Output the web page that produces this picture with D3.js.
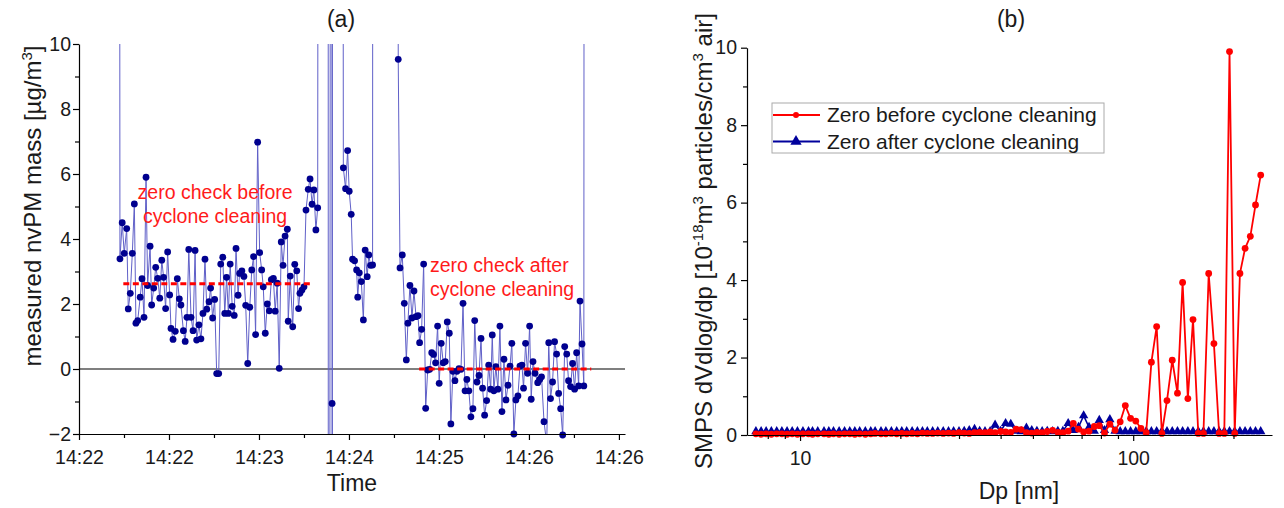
<!DOCTYPE html>
<html>
<head>
<meta charset="utf-8">
<script src="https://cdn.jsdelivr.net/npm/d3@7"></script>
<style>
  body { margin: 0; background: #fff; }
  text { font-family: "Liberation Sans", Arial, sans-serif; }
</style>
</head>
<body>
<svg id="chart" width="1284" height="508"></svg>
<script>
// ---------- panel (a) data: seconds after the first axis tick, nvPM mass (ug/m3)
// 60 / -60 stand for readings far off the plotted range
let timeSec = [
  17.7, 18.2, 19.2, 20.1, 21.2, 21.9, 22.8, 23.7, 24.6, 25.3,
  26.1, 27.2, 28.0, 28.9, 29.8, 30.5, 31.6, 32.3, 33.2, 34.1,
  35.0, 35.9, 36.8, 37.6, 38.5, 39.4, 40.3, 40.9, 41.8, 42.8,
  43.7, 44.6, 45.3, 46.4, 47.2, 48.0, 48.8, 49.8, 50.7, 51.6,
  52.3, 53.3, 54.2, 55.1, 56.0, 56.8, 57.8, 58.5, 59.4, 60.3,
  61.2, 62.1, 63.0, 63.9, 64.8, 65.6, 66.4, 67.2, 68.1, 69.0,
  69.8, 70.7, 71.4, 72.4, 73.3, 74.1, 75.0, 75.9, 76.8, 77.6,
  78.5, 79.4, 80.3, 81.2, 81.9, 82.8, 83.7, 84.6, 85.5, 86.4,
  87.2, 88.1, 89.0, 89.9, 90.7, 91.6, 92.6, 93.0, 93.9, 95.0,
  95.9, 96.8, 97.6, 98.2, 99.1, 100.0, 100.9, 101.9, 102.7, 103.6,
  104.4, 105.3, 106.1, 106.8, 110.7, 110.9, 112.2, 112.5, 112.55, 112.7,
  116.9, 117.5, 118.5, 119.4, 120.1, 121.0, 121.6, 122.5, 123.4, 123.9,
  124.6, 125.5, 126.4, 127.2, 128.1, 128.8, 129.6, 130.5, 130.8, 141.6,
  141.9, 142.7, 143.7, 144.6, 145.5, 146.2, 147.1, 148.0, 148.9, 149.8,
  150.7, 151.4, 152.3, 153.2, 154.1, 155.0, 155.9, 156.8, 157.6, 158.5,
  159.4, 160.1, 161.0, 161.9, 162.8, 163.7, 164.6, 165.3, 166.2, 167.1,
  168.0, 168.9, 169.8, 170.7, 171.6, 172.4, 173.3, 174.2, 175.1, 175.9,
  176.9, 177.8, 178.7, 179.4, 180.3, 181.2, 182.1, 183.0, 183.7, 184.4,
  185.3, 186.2, 187.1, 188.0, 188.9, 189.8, 190.7, 191.6, 192.4, 193.3,
  194.2, 195.1, 196.0, 196.9, 197.6, 198.5, 199.4, 200.3, 201.0, 201.8,
  202.7, 203.9, 204.8, 205.6, 206.7, 207.9, 208.8, 209.6, 210.5, 211.4,
  212.3, 213.2, 214.1, 215.0, 215.9, 216.8, 217.6, 218.5, 219.4, 220.3,
  221.2, 222.1, 222.7, 223.6, 224.4, 224.8
];
let massVals = [
  60, 3.39, 4.50, 3.56, 4.32, 1.85, 2.33, 3.56, 5.08, 1.41,
  1.49, 2.21, 2.78, 1.59, 5.90, 2.57, 3.78, 1.97, 2.49, 3.13,
  2.79, 2.18, 3.35, 2.82, 1.86, 3.60, 2.28, 1.25, 0.91, 1.16,
  2.78, 2.16, 1.97, 1.18, 0.85, 1.59, 3.68, 1.59, 1.18, 3.65,
  0.89, 1.36, 0.93, 1.71, 3.38, 1.84, 2.07, 2.49, 1.57, 2.14,
  -0.14, -0.14, 3.23, 3.44, 1.71, 2.82, 1.71, 3.23, 1.93, 1.65,
  3.71, 2.27, 2.94, 3.02, 2.85, 1.96, 0.17, 1.90, 3.05, 3.46,
  1.06, 6.98, 3.58, 3.05, 2.53, 1.10, 2.00, 1.79, 2.75, 2.79,
  1.78, 2.64, 0.02, 3.91, 3.19, 4.09, 4.30, 1.47, 2.86, 1.30,
  3.22, 3.02, 1.86, 2.33, 2.43, 2.53, 4.89, 5.53, 5.85, 5.07,
  5.51, 4.28, 4.96, 60, 60, -60, 60, -1.06, -60, 60,
  60, 6.19, 5.55, 6.72, 5.47, 4.76, 3.38, 3.33, 3.05, 2.21,
  2.96, 2.69, 1.51, 3.66, 2.84, 3.51, 3.19, 3.20, 60, 60,
  9.53, 3.11, 3.51, 2.02, 0.28, 1.41, 2.57, 1.57, 2.40, 1.61,
  1.64, 0.81, 1.22, 3.23, -1.21, -0.03, -0.01, 0.50, 0.45, 0.19,
  1.32, -0.44, 0.79, 0.19, 0.23, 1.45, 1.10, -1.69, -0.07, -0.36,
  -0.07, 0.01, -0.01, 2.02, -0.67, -0.32, -0.67, -1.47, -1.22, 1.49,
  -0.40, -0.20, 0.94, -0.59, -1.42, -0.97, 0.12, -0.62, 1.05, -0.67,
  0.07, -0.62, 1.32, -1.31, 0.30, -0.95, -0.50, 0.09, 0.79, -2.00,
  -0.95, -0.83, 0.09, 0.12, -0.59, 0.79, -0.13, 1.32, -0.93, 0.23,
  -0.13, -0.42, -0.32, -0.24, -1.62, -2.30, 0.81, -0.91, -0.40, 0.84,
  0.46, -0.75, -1.22, -2.03, 0.69, 0.46, -0.36, -0.54, 0.17, -0.62,
  0.50, -0.52, 2.09, 0.77, -0.52, 60
];
let timeTicks = [0, 40, 80, 120, 160, 200, 240];
let timeLabels = ["14:22", "14:22", "14:23", "14:24", "14:25", "14:26", "14:26"];
let timeMinor = [20, 60, 100, 140, 180, 220];
let massTicks = [-2, 0, 2, 4, 6, 8, 10];
let massMinor = [-1, 1, 3, 5, 7, 9];

// zero-check averages (red dashed)
let zeroStart = [19.7, 151.2];
let zeroEnd = [102.7, 227.7];
let zeroLevel = [2.62, 0.0];

// ---------- panel (b) data: SMPS channels (nm) and dV/dlogDp
let dpNm = [
  7.37, 7.64, 7.91, 8.2, 8.51, 8.82, 9.14, 9.47, 9.82, 10.2,
  10.6, 10.9, 11.3, 11.8, 12.2, 12.6, 13.1, 13.6, 14.1, 14.6,
  15.1, 15.7, 16.3, 16.8, 17.5, 18.1, 18.8, 19.5, 20.2, 20.9,
  21.7, 22.5, 23.3, 24.1, 25.0, 25.9, 26.9, 27.9, 28.9, 30.0,
  31.1, 32.2, 33.4, 34.6, 35.9, 37.2, 38.5, 40.0, 41.4, 42.9,
  44.5, 46.1, 47.8, 49.6, 51.4, 53.3, 55.2, 57.3, 59.4, 61.5,
  63.8, 66.1, 68.5, 71.0, 73.7, 76.4, 79.1, 82.0, 85.1, 88.2,
  91.4, 94.7, 98.2, 101.8, 105.5, 109.4, 113.4, 117.6, 121.9, 126.3,
  131.0, 135.8, 140.7, 145.9, 151.2, 156.8, 162.5, 168.5, 174.7, 181.1,
  187.7, 194.6, 201.7, 209.1, 216.7, 224.7, 232.9, 241.4
];
let beforeVals = [
  0.03, 0.02, 0.03, 0.02, 0.03, 0.03, 0.02, 0.03, 0.02, 0.03,
  0.03, 0.02, 0.03, 0.03, 0.02, 0.03, 0.02, 0.03, 0.03, 0.02,
  0.03, 0.02, 0.03, 0.04, 0.03, 0.03, 0.04, 0.03, 0.04, 0.03,
  0.04, 0.03, 0.05, 0.04, 0.04, 0.05, 0.04, 0.05, 0.04, 0.06,
  0.05, 0.04, 0.06, 0.07, 0.06, 0.08, 0.06, 0.09, 0.08, 0.07,
  0.15, 0.14, 0.06, 0.05, 0.07, 0.06, 0.09, 0.12, 0.07, 0.06,
  0.10, 0.30, 0.15, 0.08, 0.10, 0.22, 0.24, 0.05, 0.28, 0.12,
  0.34, 0.76, 0.43, 0.36, 0.17, 0.06, 1.88, 2.80, 0.04, 0.89,
  1.93, 1.08, 3.94, 0.94, 2.98, 0.04, 0.04, 4.17, 2.36, 0.04,
  0.04, 9.90, 0.04, 4.17, 4.82, 5.13, 5.94, 6.71
];
let afterVals = [
  0.09, 0.09, 0.09, 0.09, 0.09, 0.09, 0.09, 0.09, 0.09, 0.09,
  0.09, 0.09, 0.09, 0.09, 0.09, 0.09, 0.09, 0.09, 0.09, 0.09,
  0.09, 0.09, 0.09, 0.09, 0.09, 0.09, 0.09, 0.09, 0.09, 0.09,
  0.09, 0.09, 0.09, 0.09, 0.09, 0.09, 0.09, 0.09, 0.09, 0.09,
  0.10, 0.12, 0.15, 0.10, 0.09, 0.09, 0.26, 0.10, 0.30, 0.28,
  0.10, 0.09, 0.18, 0.12, 0.10, 0.09, 0.10, 0.09, 0.10, 0.10,
  0.30, 0.12, 0.20, 0.50, 0.20, 0.10, 0.38, 0.12, 0.40, 0.10,
  0.09, 0.09, 0.09, 0.09, 0.09, 0.09, 0.09, 0.09, 0.09, 0.09,
  0.09, 0.09, 0.09, 0.09, 0.09, 0.09, 0.09, 0.09, 0.09, 0.09,
  0.09, 0.09, 0.09, 0.09, 0.09, 0.09, 0.09, 0.09
];
let dpTicks = [10, 100];
let dpMinor = [8, 9, 20, 30, 40, 50, 60, 70, 80, 90, 200];
let smpsTicks = [0, 2, 4, 6, 8, 10];
let smpsMinor = [1, 3, 5, 7, 9];
let seriesNames = ["Zero before cyclone cleaning", "Zero after cyclone cleaning"];

const svg = d3.select('#chart');
const FONT = '"Liberation Sans", Arial, sans-serif';

function styleAxis(g, size) {
  g.attr('font-family', FONT).attr('font-size', size);
  g.selectAll('path, line').attr('stroke', '#000').attr('stroke-width', 1.2);
  g.selectAll('text').attr('fill', '#1a1a1a');
}

// =============== panel (a)
const ax = d3.scaleLinear().domain([0, 242.7]).range([79, 625]);
const ay = d3.scaleLinear().domain([-2, 10]).range([434, 44]);

svg.append('clipPath').attr('id', 'clipA')
  .append('rect')
  .attr('x', ax.range()[0]).attr('y', ay.range()[1])
  .attr('width', ax.range()[1] - ax.range()[0])
  .attr('height', ay.range()[0] - ay.range()[1]);

const pts = timeSec.map((t, i) => ({ t: t, v: massVals[i] }));

// zero line
svg.append('line')
  .attr('x1', ax.range()[0]).attr('x2', ax.range()[1])
  .attr('y1', ay(0)).attr('y2', ay(0))
  .attr('stroke', '#000').attr('stroke-width', 1.2);

svg.append('path')
  .datum(pts)
  .attr('clip-path', 'url(#clipA)')
  .attr('fill', 'none')
  .attr('stroke', '#6060c8')
  .attr('stroke-width', 1)
  .attr('d', d3.line().x(d => ax(d.t)).y(d => ay(d.v)));

svg.append('g').selectAll('circle')
  .data(pts.filter(d => d.v >= -2.1 && d.v <= 10))
  .enter().append('circle')
  .attr('cx', d => ax(d.t))
  .attr('cy', d => ay(d.v))
  .attr('r', 3.4)
  .attr('fill', '#00008f');

// red dashed zero-check averages
svg.append('g').selectAll('line')
  .data(zeroLevel)
  .enter().append('line')
  .attr('x1', (d, i) => ax(zeroStart[i]))
  .attr('x2', (d, i) => ax(zeroEnd[i]))
  .attr('y1', d => ay(d)).attr('y2', d => ay(d))
  .attr('stroke', '#ff0000')
  .attr('stroke-width', 3)
  .attr('stroke-dasharray', '6,3.5');

// annotations
const noteA = svg.append('text').attr('fill', '#ff1a1a').style('font-size', '19.5px').attr('text-anchor', 'middle');
noteA.append('tspan').attr('x', ax(60.5)).attr('y', 199).text('zero check before');
noteA.append('tspan').attr('x', ax(60.5)).attr('y', 223).text('cyclone cleaning');
const noteB = svg.append('text').attr('fill', '#ff1a1a').style('font-size', '19.5px');
noteB.append('tspan').attr('x', ax(156)).attr('y', 271.5).text('zero check after');
noteB.append('tspan').attr('x', ax(156)).attr('y', 296).text('cyclone cleaning');

// axes (a)
const axB = svg.append('g').attr('transform', `translate(0,${ay.range()[0]})`)
  .call(d3.axisBottom(ax).tickValues(timeTicks).tickFormat((d, i) => timeLabels[i])
    .tickSize(6).tickSizeOuter(0).tickPadding(10));
styleAxis(axB, 19.5);
const axBm = svg.append('g').attr('transform', `translate(0,${ay.range()[0]})`)
  .call(d3.axisBottom(ax).tickValues(timeMinor).tickFormat('').tickSize(4).tickSizeOuter(0));
axBm.select('.domain').remove();
styleAxis(axBm, 10);

const ayL = svg.append('g').attr('transform', `translate(${ax.range()[0]},0)`)
  .call(d3.axisLeft(ay).tickValues(massTicks).tickFormat(d => d < 0 ? '\u2212' + Math.abs(d) : d)
    .tickSize(6).tickSizeOuter(0).tickPadding(2));
styleAxis(ayL, 19.5);
const ayLm = svg.append('g').attr('transform', `translate(${ax.range()[0]},0)`)
  .call(d3.axisLeft(ay).tickValues(massMinor).tickFormat('').tickSize(4).tickSizeOuter(0));
ayLm.select('.domain').remove();
styleAxis(ayLm, 10);

// titles (a)
svg.append('text').attr('x', 341).attr('y', 27).attr('text-anchor', 'middle')
  .style('font-size', '23px').attr('fill', '#1a1a1a').text('(a)');
svg.append('text').attr('x', 352).attr('y', 491).attr('text-anchor', 'middle')
  .style('font-size', '23px').attr('fill', '#1a1a1a').text('Time');
const ta = svg.append('text').attr('transform', 'translate(41,206) rotate(-90)')
  .attr('text-anchor', 'middle').style('font-size', '24px').attr('fill', '#1a1a1a');
ta.append('tspan').text('measured nvPM mass [\u00b5g/m');
ta.append('tspan').attr('dy', -9).style('font-size', '15px').text('3');
ta.append('tspan').attr('dy', 9).text(']');

// =============== panel (b)
const bx = d3.scaleLog().domain([6.93, 261]).range([747, 1272]);
const by = d3.scaleLinear().domain([0, 10]).range([435, 47.7]);

const before = dpNm.map((d, i) => ({ d: d, v: beforeVals[i] }));
const after = dpNm.map((d, i) => ({ d: d, v: afterVals[i] }));
const lineB = d3.line().x(p => bx(p.d)).y(p => by(p.v));
const blue = '#00009c';
const red = '#ff0000';
const tri = d3.symbol().type(d3.symbolTriangle).size(38);

svg.append('path').datum(after)
  .attr('fill', 'none').attr('stroke', blue).attr('stroke-width', 1.6).attr('d', lineB);
svg.append('g').selectAll('path')
  .data(after).enter().append('path')
  .attr('transform', p => `translate(${bx(p.d)},${by(p.v)})`)
  .attr('d', tri).attr('fill', blue);

svg.append('path').datum(before)
  .attr('fill', 'none').attr('stroke', red).attr('stroke-width', 1.8).attr('d', lineB);
svg.append('g').selectAll('circle')
  .data(before).enter().append('circle')
  .attr('cx', p => bx(p.d)).attr('cy', p => by(p.v))
  .attr('r', 3.4).attr('fill', red);

// axes (b)
const bxB = svg.append('g').attr('transform', `translate(0,${by.range()[0]})`)
  .call(d3.axisBottom(bx).tickValues(dpTicks).tickFormat(d3.format('d'))
    .tickSize(6).tickSizeOuter(0).tickPadding(10));
styleAxis(bxB, 19.5);
const bxBm = svg.append('g').attr('transform', `translate(0,${by.range()[0]})`)
  .call(d3.axisBottom(bx).tickValues(dpMinor).tickFormat('').tickSize(4).tickSizeOuter(0));
bxBm.select('.domain').remove();
styleAxis(bxBm, 10);

const byL = svg.append('g').attr('transform', `translate(${bx.range()[0]},0)`)
  .call(d3.axisLeft(by).tickValues(smpsTicks).tickFormat(d3.format('d'))
    .tickSize(6).tickSizeOuter(0).tickPadding(4));
styleAxis(byL, 19.5);
const byLm = svg.append('g').attr('transform', `translate(${bx.range()[0]},0)`)
  .call(d3.axisLeft(by).tickValues(smpsMinor).tickFormat('').tickSize(4).tickSizeOuter(0));
byLm.select('.domain').remove();
styleAxis(byLm, 10);

// titles (b)
svg.append('text').attr('x', 1011).attr('y', 27).attr('text-anchor', 'middle')
  .style('font-size', '23px').attr('fill', '#1a1a1a').text('(b)');
svg.append('text').attr('x', 1019).attr('y', 499).attr('text-anchor', 'middle')
  .style('font-size', '23px').attr('fill', '#1a1a1a').text('Dp [nm]');
const tb = svg.append('text').attr('transform', 'translate(712,241) rotate(-90)')
  .attr('text-anchor', 'middle').style('font-size', '24px').attr('fill', '#1a1a1a');
tb.append('tspan').text('SMPS dVdlog/dp [10');
tb.append('tspan').attr('dy', -9).style('font-size', '15px').text('-18');
tb.append('tspan').attr('dy', 9).text('m');
tb.append('tspan').attr('dy', -9).style('font-size', '15px').text('3');
tb.append('tspan').attr('dy', 9).text(' particles/cm');
tb.append('tspan').attr('dy', -9).style('font-size', '15px').text('3');
tb.append('tspan').attr('dy', 9).text(' air]');

// legend (b)
const leg = svg.append('g').attr('transform', 'translate(772,103)');
leg.append('rect').attr('width', 332).attr('height', 50)
  .attr('fill', '#fff').attr('stroke', '#aaa').attr('stroke-width', 1);
const rows = leg.selectAll('g.row').data(seriesNames).enter().append('g')
  .attr('class', 'row')
  .attr('transform', (d, i) => `translate(0,${12 + i * 26.5})`);
rows.append('line').attr('x1', 1).attr('x2', 48).attr('y1', 0).attr('y2', 0)
  .attr('stroke', (d, i) => i === 0 ? red : blue).attr('stroke-width', 1.8);
rows.filter((d, i) => i === 0).append('circle').attr('cx', 24).attr('r', 3).attr('fill', red);
rows.filter((d, i) => i === 1).append('path').attr('transform', 'translate(24,0)')
  .attr('d', d3.symbol().type(d3.symbolTriangle).size(55)).attr('fill', blue);
rows.append('text').attr('x', 55).attr('dy', '0.35em')
  .style('font-size', '21px').attr('fill', '#1a1a1a').text(d => d);
</script>
</body>
</html>
